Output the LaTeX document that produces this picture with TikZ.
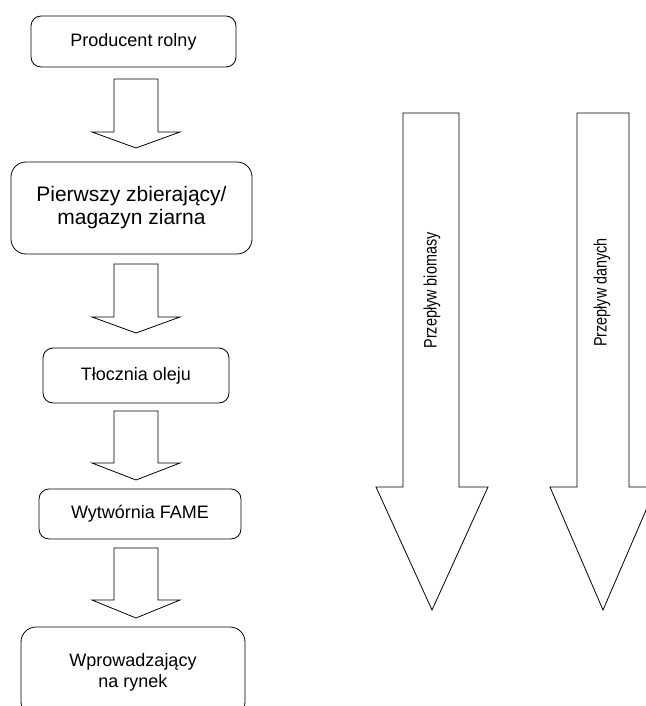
\documentclass[tikz,border=0pt]{standalone}
\usepackage{fontspec}
\setmainfont{Liberation Sans}
\tikzset{font={\fontsize{18pt}{21pt}\selectfont},
  etap/.style={draw, line width=0.8pt, rounded corners=10pt, align=center, inner sep=0pt},
  przeplyw/.style={rotate=90, font={\fontsize{18pt}{21pt}\selectfont}}}
\newcommand{\waski}[1]{\scalebox{0.8}[1]{#1}}

\begin{document}
\begin{tikzpicture}[x=1pt,y=-1pt,line width=0.8pt,line join=miter]
  \useasboundingbox (0,0) rectangle (645,706);
  %boxes
  \node[etap, minimum width=205pt, minimum height=51pt] (producent) at (133.5,41.5) {Producent rolny};
  \node[etap, rounded corners=15pt, minimum width=241pt, minimum height=92pt,
        font={\fontsize{21pt}{23pt}\selectfont}] (magazyn) at (131.5,208) {Pierwszy zbierający/\\magazyn ziarna};
  \node[etap, minimum width=186pt, minimum height=55pt] (tlocznia) at (136,375.5) {Tłocznia oleju};
  \node[etap, minimum width=202pt, minimum height=50pt] (wytwornia) at (140,514) {Wytwórnia FAME};
  \node[etap, rounded corners=15pt, minimum width=224pt, minimum height=90pt] (rynek) at (133,672) {Wprowadzający\\na rynek};
  %small arrows
  \foreach \t/\h/\p in {79/132/148, 264/317/333, 411/463/480, 548/600/618}
    \draw (114,\t) -- (114,\h) -- (92,\h) -- (136,\p) -- (180,\h) -- (158,\h) -- (158,\t) -- cycle;
  %big arrows
  \draw (403,113) -- (403,487) -- (376,487) -- (432,610) -- (488,487) -- (459,487) -- (459,113) -- cycle;
  \draw (577,113) -- (577,487) -- (550,487) -- (603,610) -- (656,487) -- (629,487) -- (629,113) -- cycle;
  %labels
  \node[przeplyw] (biomasa) at (432,290.5) {\waski{Przepływ biomasy}};
  \node[przeplyw] (dane) at (602,292.5) {\waski{Przepływ danych}};
\end{tikzpicture}
\end{document}
